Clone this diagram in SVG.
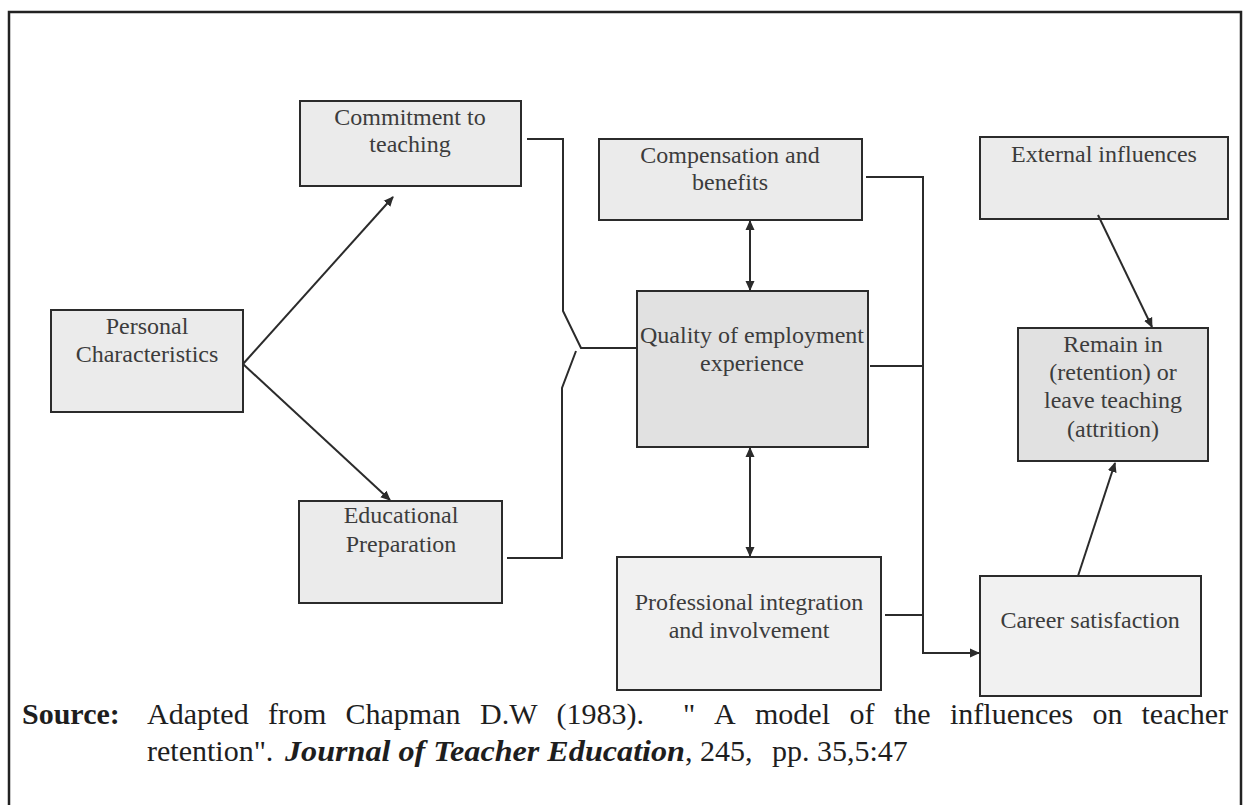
<svg xmlns="http://www.w3.org/2000/svg" width="1245" height="805" viewBox="0 0 1245 805">
<defs>
<style>
.box{fill:#ebebeb;stroke:#2b2b2b;stroke-width:2}
.dark{fill:#e1e1e1}
.light{fill:#f1f1f1}
.lbl{font-family:"Liberation Serif","Times New Roman",serif;font-size:24px;fill:#3c3c3c;text-anchor:middle}
.src{font-family:"Liberation Serif","Times New Roman",serif;font-size:30px;fill:#1e1e1e}
.conn{fill:none;stroke:#2b2b2b;stroke-width:2}
</style>
<marker id="ah" viewBox="0 0 10 10" refX="9" refY="5" markerWidth="10" markerHeight="10" markerUnits="userSpaceOnUse" orient="auto-start-reverse">
<path d="M0,0.5 L10,5 L0,9.5 z" fill="#2b2b2b"/>
</marker>
</defs>
<rect width="1245" height="805" fill="#ffffff"/>
<path d="M9,805 V12 H1241 V805" fill="none" stroke="#222" stroke-width="2.5"/>

<g id="personal"><rect class="box" x="51" y="310" width="192" height="102"/><text class="lbl" x="147" y="334">Personal</text><text class="lbl" x="147" y="362">Characteristics</text></g>
<g id="commitment"><rect class="box" x="300" y="101" width="221" height="85"/><text class="lbl" x="410" y="125">Commitment to</text><text class="lbl" x="410" y="152">teaching</text></g>
<g id="educational"><rect class="box" x="299" y="501" width="203" height="102"/><text class="lbl" x="401" y="523">Educational</text><text class="lbl" x="401" y="552">Preparation</text></g>
<g id="compensation"><rect class="box" x="599" y="139" width="263" height="81"/><text class="lbl" x="730" y="163">Compensation and</text><text class="lbl" x="730" y="190">benefits</text></g>
<g id="quality"><rect class="box dark" x="637" y="291" width="231" height="156"/><text class="lbl" x="752" y="343">Quality of employment</text><text class="lbl" x="752" y="371">experience</text></g>
<g id="professional"><rect class="box light" x="617" y="557" width="264" height="133"/><text class="lbl" x="749" y="610">Professional integration</text><text class="lbl" x="749" y="638">and involvement</text></g>
<g id="external"><rect class="box" x="980" y="137" width="248" height="82"/><text class="lbl" x="1104" y="162">External influences</text></g>
<g id="remain"><rect class="box dark" x="1018" y="328" width="190" height="133"/><text class="lbl" x="1113" y="352">Remain in</text><text class="lbl" x="1113" y="380">(retention) or</text><text class="lbl" x="1113" y="408">leave teaching</text><text class="lbl" x="1113" y="437">(attrition)</text></g>
<g id="career"><rect class="box light" x="980" y="576" width="221" height="120"/><text class="lbl" x="1090" y="628">Career satisfaction</text></g>

<g id="connectors">
<line class="conn" x1="243" y1="364" x2="393" y2="197" marker-end="url(#ah)"/>
<line class="conn" x1="243" y1="364" x2="390" y2="500" marker-end="url(#ah)"/>
<path class="conn" d="M527,139 H563 V311 L581,348 H637"/>
<path class="conn" d="M507,558 H562 V388 L576,351"/>
<line class="conn" x1="750" y1="221" x2="750" y2="290" marker-start="url(#ah)" marker-end="url(#ah)"/>
<line class="conn" x1="750" y1="448" x2="750" y2="556" marker-start="url(#ah)" marker-end="url(#ah)"/>
<path class="conn" d="M866,177 H923 V653 H979" marker-end="url(#ah)"/>
<path class="conn" d="M870,366 H923"/>
<path class="conn" d="M885,615 H923"/>
<line class="conn" x1="1098" y1="215" x2="1152" y2="327" marker-end="url(#ah)"/>
<line class="conn" x1="1078" y1="576" x2="1115" y2="463" marker-end="url(#ah)"/>
</g>

<g id="source">
<text class="src" x="22" y="724" font-weight="bold">Source:</text>
<text class="src" y="724"><tspan x="147">Adapted</tspan><tspan x="268">from</tspan><tspan x="345.5">Chapman</tspan><tspan x="480">D.W</tspan><tspan x="556.5">(1983).</tspan><tspan x="683">"</tspan><tspan x="714">A</tspan><tspan x="755">model</tspan><tspan x="849.5">of</tspan><tspan x="894">the</tspan><tspan x="950">influences</tspan><tspan x="1092.5">on</tspan><tspan x="1141.5">teacher</tspan></text>
<text class="src" y="761"><tspan x="147">retention".</tspan><tspan x="285" font-weight="bold" font-style="italic" textLength="400" lengthAdjust="spacingAndGlyphs">Journal of Teacher Education</tspan><tspan x="685">, 245,</tspan><tspan x="772">pp. 35,5:47</tspan></text>
</g>
</svg>
